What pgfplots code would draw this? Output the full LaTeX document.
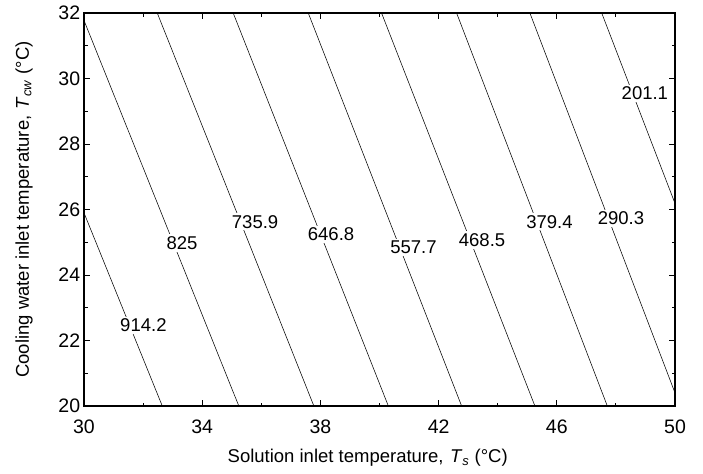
\documentclass[border=0pt]{standalone}
\usepackage{pgfplots}
\pgfplotsset{compat=1.18}
\usepackage{fontspec}
\setmainfont{Liberation Sans}
\begin{document}
\fontsize{18.5}{22}\selectfont
\begin{tikzpicture}
\begin{axis}[
  scale only axis, width=591pt, height=393pt,
  xmin=30, xmax=50, ymin=20, ymax=32,
  xtick={30,34,...,50}, ytick={20,22,...,32},
  minor x tick num=1, minor y tick num=1,
  tick align=inside, major tick length=6pt, minor tick length=3.5pt,
  axis line style={line width=1.3pt},
  every tick/.style={black, line width=0.9pt},
  /pgf/number format/assume math mode=true,
  tick label style={font=\fontsize{19.5}{22}\selectfont},
  xticklabel style={yshift=-7pt},
  yticklabel style={xshift=2.5pt},
  label style={font=\fontsize{20}{24}\selectfont},
  every axis x label/.style={at={(axis description cs:0.48,-0.132)}, anchor=center},
  every axis y label/.style={at={(axis description cs:-0.1015,0.5)}, anchor=center, rotate=90},
  xlabel={Solution inlet temperature,\hspace{0.35em}\textit{T}\textsubscript{\textit{s}} (°C)},
  ylabel={Cooling water inlet temperature,\hspace{0.35em}\textit{T}\textsubscript{\textit{cw}} (°C)},
]
\addplot[black, line width=0.55pt] coordinates {(32.65,20) (27.26,32)};
\addplot[black, line width=0.55pt] coordinates {(35.24,20) (29.90,32)};
\addplot[black, line width=0.55pt] coordinates {(37.78,20) (32.48,32)};
\addplot[black, line width=0.55pt] coordinates {(40.30,20) (35.05,32)};
\addplot[black, line width=0.55pt] coordinates {(42.78,20) (37.59,32)};
\addplot[black, line width=0.55pt] coordinates {(45.26,20) (40.07,32)};
\addplot[black, line width=0.55pt] coordinates {(47.71,20) (42.61,32)};
\addplot[black, line width=0.55pt] coordinates {(50.17,20) (45.09,32)};
\addplot[black, line width=0.55pt] coordinates {(52.64,20) (47.52,32)};
\begin{scope}[every node/.style={fill=white, inner sep=2pt, font=\fontsize{18.5}{22}\selectfont}]
\node at (axis cs:32.01,22.47) {914.2};
\node at (axis cs:33.32,24.98) {825};
\node at (axis cs:35.79,25.63) {735.9};
\node at (axis cs:38.36,25.25) {646.8};
\node at (axis cs:41.15,24.84) {557.7};
\node at (axis cs:43.47,25.07) {468.5};
\node at (axis cs:45.75,25.63) {379.4};
\node at (axis cs:48.17,25.73) {290.3};
\node at (axis cs:48.98,29.54) {201.1};
\end{scope}
\coordinate (SW) at (rel axis cs:0,0);
\coordinate (NE) at (rel axis cs:1,1);
\end{axis}
\path (SW) ++(-84pt,-67pt);
\path (NE) ++(28pt,13pt);
\end{tikzpicture}
\end{document}
